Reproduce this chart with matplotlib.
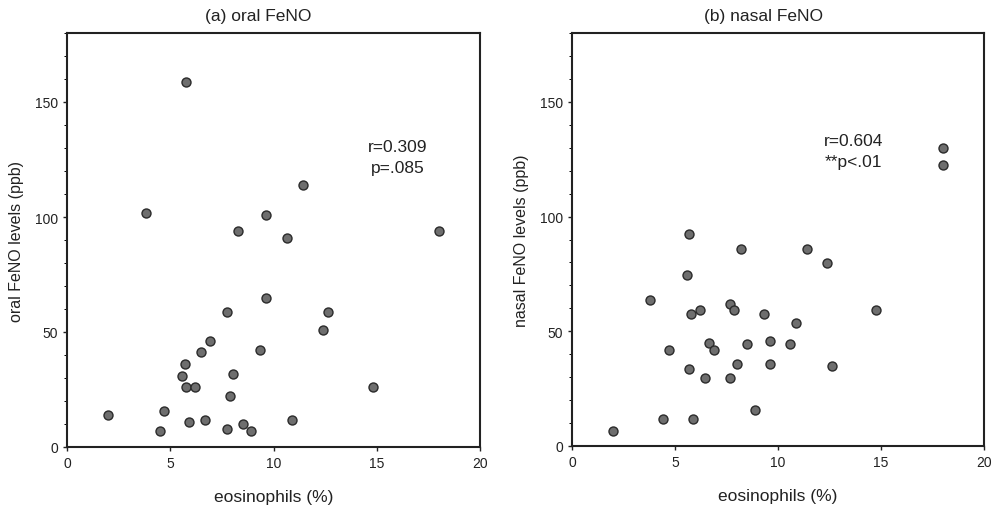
import numpy as np
import matplotlib.pyplot as plt
from matplotlib.ticker import MultipleLocator

plt.rcParams['font.family'] = ['Liberation Sans', 'DejaVu Sans']

# (a) oral FeNO vs eosinophils
oral_eos = [1.98, 3.82, 5.76, 4.48, 4.69, 5.56, 5.71, 5.76, 6.21, 5.89, 6.5, 6.92, 6.69, 7.73, 7.73,
            8.03, 7.9, 8.26, 8.53, 8.92, 9.35, 9.63, 9.65, 10.63, 10.92, 11.45, 12.4, 12.63, 14.81, 18.02]
oral_feno = [14.1, 101.8, 158.7, 7.0, 15.8, 30.9, 35.9, 26.1, 26.1, 11.0, 41.1, 45.9, 11.9, 58.8, 8.0,
             31.8, 22.1, 93.9, 10.0, 7.0, 42.0, 64.9, 100.9, 90.9, 11.9, 113.7, 50.7, 58.8, 26.0, 93.8]

# (b) nasal FeNO vs eosinophils
nasal_eos = [1.98, 3.77, 4.44, 4.70, 5.60, 5.70, 5.77, 5.70, 5.86, 6.19, 6.48, 6.67, 6.90, 7.66, 7.87,
             7.66, 8.0, 8.19, 8.49, 8.87, 9.30, 9.59, 9.60, 10.59, 10.88, 11.40, 12.40, 12.60, 14.77, 18.02, 18.02]
nasal_feno = [6.7, 63.7, 11.8, 41.7, 74.6, 92.6, 57.4, 33.7, 11.8, 59.4, 29.8, 44.8, 41.7, 61.8, 59.4,
              29.8, 35.8, 85.8, 44.6, 15.8, 57.7, 45.6, 35.6, 44.6, 53.6, 85.8, 79.7, 34.7, 59.4, 129.7, 122.5]

fig = plt.figure(figsize=(9.94, 5.10), dpi=100)
W, H = 994, 510

ax1 = fig.add_axes([67 / W, (H - 448) / H, 413 / W, 414 / H])
ax2 = fig.add_axes([572 / W, (H - 447) / H, 412 / W, 413 / H])

panels = [
    (ax1, oral_eos, oral_feno, 'oral FeNO levels (ppb)'),
    (ax2, nasal_eos, nasal_feno, 'nasal FeNO levels (ppb)'),
]

for ax, xs, ys, ylab in panels:
    ax.scatter(xs, ys, s=42, c='#6e6e6e', edgecolors='#2a2a2a', linewidths=1.0, zorder=3)
    ax.set_xlim(0, 20)
    ax.set_ylim(0, 180)
    ax.set_xticks([0, 5, 10, 15, 20])
    ax.set_yticks([0, 50, 100, 150])
    ax.yaxis.set_minor_locator(MultipleLocator(10))
    ax.tick_params(axis='both', which='major', direction='out', length=3, width=1,
                   labelsize=10, colors='#222222')
    ax.tick_params(axis='y', which='minor', direction='out', length=2, width=0.7)
    for sp in ax.spines.values():
        sp.set_linewidth(1.5)
        sp.set_color('#222222')
    ax.set_xlabel('eosinophils (%)', fontsize=12.5, labelpad=14, color='#222222')
    ax.set_ylabel(ylab, fontsize=11.5, color='#222222')
    ax.yaxis.set_label_coords(-0.104, 0.5)

fig.text(258 / W, 1 - 17 / H, '(a) oral FeNO', ha='center', va='center', fontsize=12.5, color='#222222')
fig.text(763 / W, 1 - 17 / H, '(b) nasal FeNO', ha='center', va='center', fontsize=12.5, color='#222222')

ax1.text(16.0, 126, 'r=0.309\np=.085', ha='center', va='center', fontsize=12.5,
         linespacing=1.45, color='#222222')
ax2.text(12.25, 128.5, 'r=0.604\n**p<.01', ha='left', va='center', fontsize=12.5,
         linespacing=1.45, color='#222222')

fig.savefig('out.png', dpi=100)
